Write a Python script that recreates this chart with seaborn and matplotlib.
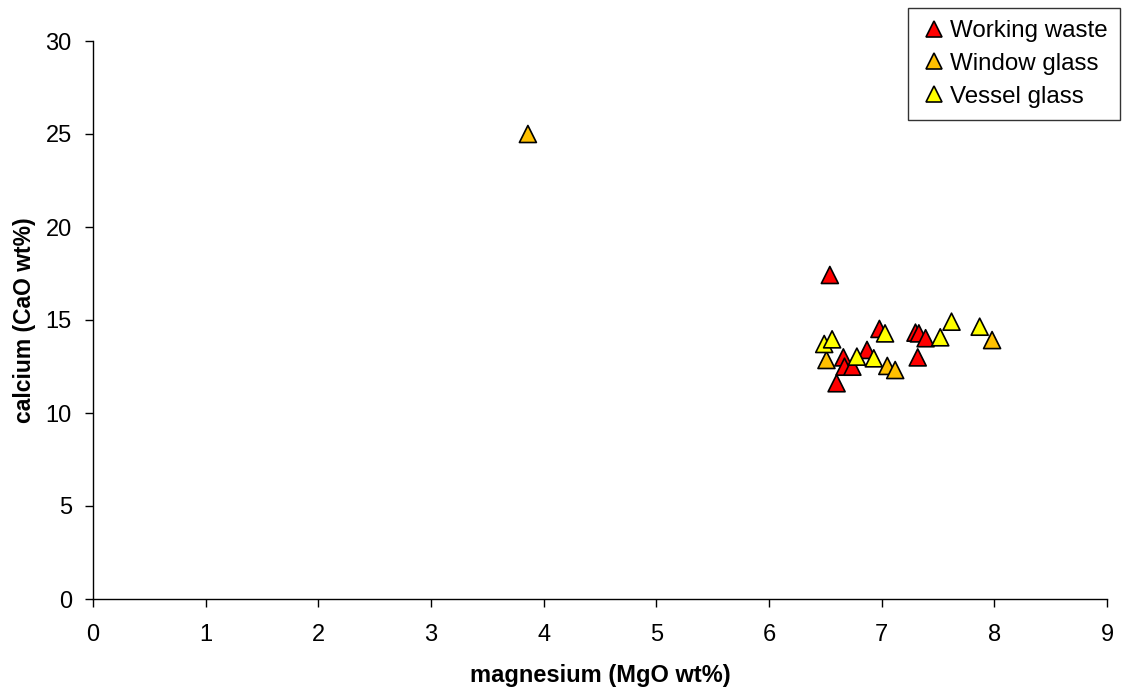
import matplotlib
matplotlib.use('Agg')
import matplotlib.pyplot as plt
import seaborn as sns
import pandas as pd

# 数据
waste_mgo = [6.54, 6.98, 7.30, 7.33, 7.39, 6.87, 6.66, 6.67, 6.74, 7.32, 6.60]
waste_cao = [17.42, 14.52, 14.32, 14.28, 14.02, 13.39, 12.99, 12.49, 12.49, 12.99, 11.60]

window_mgo = [3.86, 6.51, 7.05, 7.12, 7.98]
window_cao = [25.0, 12.85, 12.53, 12.31, 13.92]

vessel_mgo = [6.49, 6.56, 7.03, 7.52, 7.62, 7.87, 6.78, 6.93]
vessel_cao = [13.71, 13.96, 14.28, 14.07, 14.91, 14.64, 13.03, 12.94]

groups = ['Working waste', 'Window glass', 'Vessel glass']
colors = ['#FF0000', '#FFC000', '#FFFF00']

df = pd.concat([
    pd.DataFrame({'mgo': waste_mgo, 'cao': waste_cao, 'group': groups[0]}),
    pd.DataFrame({'mgo': window_mgo, 'cao': window_cao, 'group': groups[1]}),
    pd.DataFrame({'mgo': vessel_mgo, 'cao': vessel_cao, 'group': groups[2]}),
], ignore_index=True)

sns.set_style('white')
plt.rcParams['font.family'] = ['Liberation Sans', 'DejaVu Sans']
for key in ['text.color', 'axes.labelcolor', 'xtick.color', 'ytick.color']:
    plt.rcParams[key] = 'black'

fs = 17

fig = plt.figure(figsize=(11.27, 6.91), dpi=100)
ax = fig.add_axes([93 / 1127, 1 - 599 / 691, (1107 - 93) / 1127, (599 - 41) / 691])

sns.scatterplot(data=df, x='mgo', y='cao', hue='group', hue_order=groups,
                palette=dict(zip(groups, colors)), marker='^', s=150,
                edgecolor='black', linewidth=1.2, ax=ax, legend=False, zorder=3)

ax.set_xlim(0, 9)
ax.set_ylim(0, 30)
ax.set_xticks(range(0, 10))
ax.set_yticks(range(0, 31, 5))
ax.tick_params(axis='both', direction='out', length=5.8, width=1, color='black',
               labelsize=fs, left=True, bottom=True)
ax.tick_params(axis='x', pad=12.5)
ax.tick_params(axis='y', pad=9.5)
for side in ['top', 'right']:
    ax.spines[side].set_visible(False)
for side in ['left', 'bottom']:
    ax.spines[side].set_color('black')
    ax.spines[side].set_linewidth(1)

ax.set_xlabel('magnesium (MgO wt%)', fontsize=fs, fontweight='bold', labelpad=12.5)
ax.set_ylabel('calcium (CaO wt%)', fontsize=16.5, fontweight='bold', labelpad=6.5)

# 图例
handles = [plt.Line2D([], [], linestyle='none', marker='^', markersize=11,
                      markerfacecolor=c, markeredgecolor='black', markeredgewidth=1.2)
           for c in colors]
leg = fig.legend(handles, groups, loc='upper right', bbox_to_anchor=(1120 / 1127, 1 - 8 / 691),
                 fontsize=17.4, frameon=True, fancybox=False, handlelength=1.15,
                 handletextpad=0.1, borderpad=0.5, labelspacing=0.45, borderaxespad=0)
leg.get_frame().set_edgecolor('black')
leg.get_frame().set_linewidth(1)

fig.savefig('out.png', dpi=100)
